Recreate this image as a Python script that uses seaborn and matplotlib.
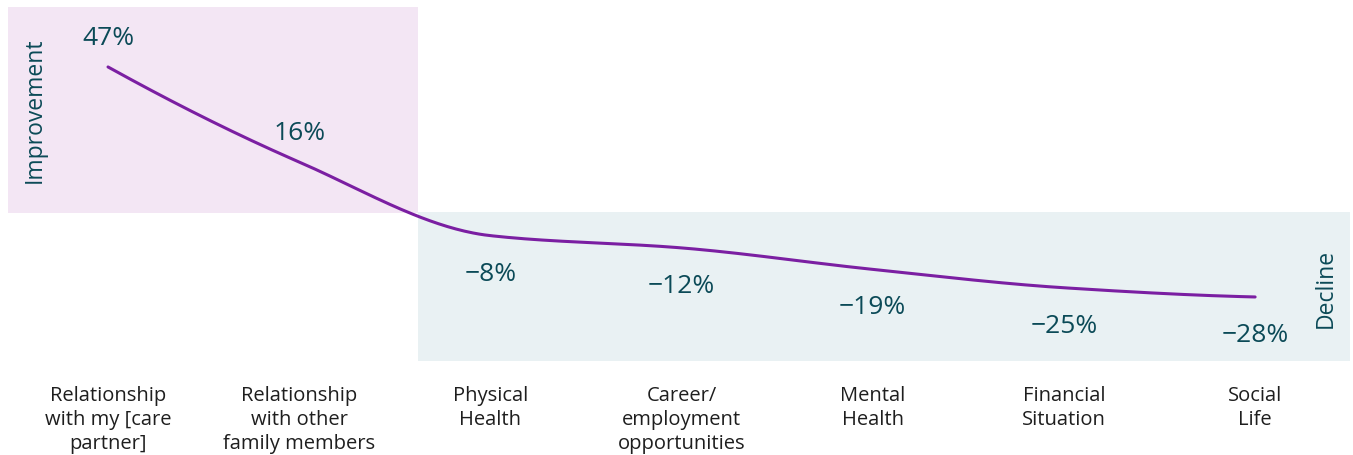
import matplotlib
matplotlib.use("Agg")
import matplotlib.pyplot as plt
from matplotlib.patches import Rectangle
import numpy as np
import pandas as pd
import seaborn as sns

CATEGORIES = [
    "Relationship\nwith my [care\npartner]",
    "Relationship\nwith other\nfamily members",
    "Physical\nHealth",
    "Career/\nemployment\nopportunities",
    "Mental\nHealth",
    "Financial\nSituation",
    "Social\nLife",
]
CHANGE_PCT = [47, 16, -8, -12, -19, -25, -28]

LINE_COLOR = "#7B1FA2"
VALUE_COLOR = "#0B4A57"
LABEL_COLOR = "#1E1E1E"
PINK = "#F3E6F4"
BLUE = "#E9F1F3"


def pchip(x, y, xs):
    """Monotone cubic curve through the points, for a smooth line."""
    x = np.asarray(x, float)
    y = np.asarray(y, float)
    h = np.diff(x)
    delta = np.diff(y) / h
    n = len(x)
    d = np.zeros(n)
    for k in range(1, n - 1):
        if delta[k - 1] * delta[k] > 0:
            w1 = 2 * h[k] + h[k - 1]
            w2 = h[k] + 2 * h[k - 1]
            d[k] = (w1 + w2) / (w1 / delta[k - 1] + w2 / delta[k])
    d[0] = ((2 * h[0] + h[1]) * delta[0] - h[0] * delta[1]) / (h[0] + h[1])
    if np.sign(d[0]) != np.sign(delta[0]):
        d[0] = 0
    d[-1] = ((2 * h[-1] + h[-2]) * delta[-1] - h[-1] * delta[-2]) / (h[-1] + h[-2])
    if np.sign(d[-1]) != np.sign(delta[-1]):
        d[-1] = 0
    idx = np.clip(np.searchsorted(x, xs) - 1, 0, n - 2)
    t = (xs - x[idx]) / h[idx]
    h00 = 2 * t**3 - 3 * t**2 + 1
    h10 = t**3 - 2 * t**2 + t
    h01 = -2 * t**3 + 3 * t**2
    h11 = t**3 - t**2
    return (h00 * y[idx] + h10 * h[idx] * d[idx]
            + h01 * y[idx + 1] + h11 * h[idx] * d[idx + 1])


def main() -> None:
    sns.set_theme(style="white")
    plt.rcParams["font.family"] = ["Open Sans", "DejaVu Sans"]

    pos = np.arange(len(CATEGORIES))
    xs = np.linspace(0, len(CATEGORIES) - 1, 400)
    curve = pd.DataFrame({"x": xs, "y": pchip(pos, CHANGE_PCT, xs)})

    fig = plt.figure(figsize=(13.53, 4.56), dpi=100)
    ax = fig.add_axes([0, 1 - 372 / 456, 1, 372 / 456])

    # shaded bands: improvement (above zero) and decline (below zero)
    ax.add_patch(Rectangle((-0.523, -0.6), 2.145, 67.2, color=PINK, lw=0, zorder=0))
    ax.add_patch(Rectangle((1.622, -48.9), 4.875, 48.6, color=BLUE, lw=0, zorder=0))

    sns.lineplot(data=curve, x="x", y="y", ax=ax, color=LINE_COLOR, lw=2.2, zorder=3)

    for i, v in enumerate(CHANGE_PCT):
        off = 21 if v > 0 else -27
        txt = f"{v}%".replace("-", "\u2212")
        ax.annotate(txt, (i, v), xytext=(0, off), textcoords="offset points",
                    ha="center", va="center", fontsize=19, color=VALUE_COLOR, zorder=4)

    ax.text(35 / 1353, 1 - 110 / 372, "Improvement", transform=ax.transAxes,
            rotation=90, ha="center", va="center", fontsize=16.5, color=VALUE_COLOR)
    ax.text(1326 / 1353, 1 - 288 / 372, "Decline", transform=ax.transAxes,
            rotation=90, ha="center", va="center", fontsize=16.5, color=VALUE_COLOR)

    ax.set_xlim(-0.565, 6.512)
    ax.set_ylim(-52.14, 69.16)
    ax.set_xticks(pos)
    ax.set_xticklabels(CATEGORIES, fontsize=14.5, color=LABEL_COLOR, linespacing=1.28)
    ax.tick_params(axis="x", length=0, pad=10)
    ax.set_yticks([])
    ax.set_xlabel("")
    ax.set_ylabel("")
    for s in ax.spines.values():
        s.set_visible(False)
    ax.patch.set_alpha(0)

    fig.savefig("out.png", dpi=100)
    plt.close(fig)


if __name__ == "__main__":
    main()
